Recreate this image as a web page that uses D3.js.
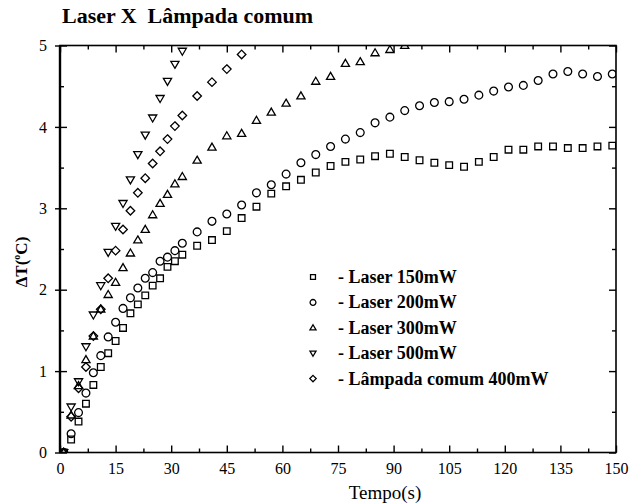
<!DOCTYPE html>
<html>
<head>
<meta charset="utf-8">
<script src="https://cdn.jsdelivr.net/npm/d3@7"></script>
<style>
  body { margin: 0; background: #fff; }
  svg { display: block; font-family: "Liberation Serif", "Times New Roman", serif; }
</style>
</head>
<body>
<div id="chart"></div>
<script>
// sample times (s) shared by every series; shorter series use the first n
const times = [1, 3, 5, 7, 9, 11, 13, 15, 17, 19, 21, 23, 25, 27, 29, 31, 33,
  37, 41, 45, 49, 53, 57, 61, 65, 69, 73, 77, 81, 85, 89, 93, 97, 101, 105, 109,
  113, 117, 121, 125, 129, 133, 137, 141, 145, 149];

const laser150 = [0, 0.16, 0.38, 0.60, 0.83, 1.05, 1.22, 1.37, 1.53, 1.71, 1.82, 1.93, 2.05, 2.14, 2.28, 2.35, 2.43,
  2.54, 2.61, 2.72, 2.88, 3.02, 3.18, 3.27, 3.35, 3.44, 3.52, 3.57, 3.60, 3.64, 3.67, 3.63, 3.59, 3.56, 3.53, 3.51,
  3.57, 3.63, 3.72, 3.72, 3.76, 3.76, 3.74, 3.74, 3.76, 3.77];
const laser200 = [0, 0.23, 0.49, 0.73, 0.98, 1.19, 1.42, 1.60, 1.77, 1.90, 2.02, 2.14, 2.21, 2.35, 2.40, 2.48, 2.57,
  2.71, 2.84, 2.93, 3.04, 3.19, 3.29, 3.42, 3.56, 3.66, 3.76, 3.85, 3.93, 4.05, 4.12, 4.20, 4.26, 4.30, 4.31, 4.34,
  4.39, 4.44, 4.49, 4.51, 4.57, 4.65, 4.68, 4.65, 4.62, 4.65];
const laser300 = [0, 0.46, 0.82, 1.14, 1.43, 1.76, 1.94, 2.09, 2.27, 2.45, 2.61, 2.74, 2.92, 3.06, 3.17, 3.30, 3.39,
  3.59, 3.75, 3.89, 3.92, 4.08, 4.18, 4.29, 4.38, 4.56, 4.62, 4.78, 4.80, 4.91, 4.95, 5.00];
const laser500 = [0, 0.56, 0.87, 1.30, 1.69, 2.05, 2.46, 2.78, 3.06, 3.35, 3.66, 3.90, 4.11, 4.35, 4.56, 4.77, 4.93];
const lampada400 = [0, 0.44, 0.79, 1.05, 1.43, 1.76, 2.14, 2.48, 2.74, 2.97, 3.19, 3.37, 3.55, 3.70, 3.85, 4.01, 4.14,
  4.38, 4.55, 4.71, 4.89];

const seriesNames = ["- Laser 150mW", "- Laser 200mW", "- Laser 300mW", "- Laser 500mW", "- Lâmpada comum 400mW"];
const seriesValues = [laser150, laser200, laser300, laser500, lampada400];
const seriesShapes = ["square", "circle", "up", "down", "diamond"];

const xMajor = [0, 15, 30, 45, 60, 75, 90, 105, 120, 135, 150];
const xMinor = [7.5, 22.5, 37.5, 52.5, 67.5, 82.5, 97.5, 112.5, 127.5, 142.5];
const yMajor = [0, 1, 2, 3, 4, 5];
const yMinor = [0.5, 1.5, 2.5, 3.5, 4.5];

const W = 632, H = 504;
const mLeft = 60, mRight = 616, mTop = 45.5, mBottom = 452.5;

const x = d3.scaleLinear().domain([0, 150]).range([mLeft, mRight]);
const y = d3.scaleLinear().domain([0, 5]).range([mBottom, mTop]);

const svg = d3.select("#chart").append("svg")
  .attr("width", W)
  .attr("height", H);

// marker path, s = half size
function shapePath(kind, s) {
  const p = d3.path();
  if (kind === "square") {
    p.rect(-s * 0.85, -s * 0.85, s * 1.7, s * 1.7);
  } else if (kind === "circle") {
    p.arc(0, 0, s, 0, 2 * Math.PI);
  } else if (kind === "up") {
    p.moveTo(0, -s * 1.05); p.lineTo(s * 1.05, s * 0.75); p.lineTo(-s * 1.05, s * 0.75); p.closePath();
  } else if (kind === "down") {
    p.moveTo(0, s * 1.05); p.lineTo(s * 1.05, -s * 0.75); p.lineTo(-s * 1.05, -s * 0.75); p.closePath();
  } else {
    p.moveTo(0, -s * 1.1); p.lineTo(s * 1.1, 0); p.lineTo(0, s * 1.1); p.lineTo(-s * 1.1, 0); p.closePath();
  }
  return p.toString();
}

svg.append("defs").append("clipPath").attr("id", "plot")
  .append("rect")
  .attr("x", mLeft).attr("y", mTop)
  .attr("width", mRight - mLeft).attr("height", mBottom - mTop);

// data markers
const pts = svg.append("g").attr("clip-path", "url(#plot)");
seriesValues.forEach((vals, i) => {
  pts.append("g").selectAll("path")
    .data(vals.map((v, j) => ({ t: times[j], v: v })))
    .enter().append("path")
    .attr("transform", d => `translate(${x(d.t)},${y(d.v)})`)
    .attr("d", shapePath(seriesShapes[i], 3.9))
    .attr("fill", "none")
    .attr("stroke", "#000")
    .attr("stroke-width", 1.3);
});

// axes
function styleAxis(g) {
  g.select(".domain").remove();
  g.selectAll("line").attr("stroke", "#000").attr("stroke-width", 1.4);
  g.selectAll("text").attr("fill", "#000").style("font-size", "16px").style("font-family", "Liberation Serif, serif");
}

svg.append("g").attr("transform", `translate(0,${mBottom})`)
  .call(d3.axisBottom(x).tickValues(xMajor).tickSize(-7).tickPadding(10).tickFormat(d3.format("d")))
  .call(styleAxis);
svg.append("g").attr("transform", `translate(0,${mBottom})`)
  .call(d3.axisBottom(x).tickValues(xMinor).tickSize(-4).tickFormat(""))
  .call(styleAxis);
svg.append("g").attr("transform", `translate(0,${mTop})`)
  .call(d3.axisTop(x).tickValues(xMajor).tickSize(-7).tickFormat(""))
  .call(styleAxis);
svg.append("g").attr("transform", `translate(0,${mTop})`)
  .call(d3.axisTop(x).tickValues(xMinor).tickSize(-4).tickFormat(""))
  .call(styleAxis);

svg.append("g").attr("transform", `translate(${mLeft},0)`)
  .call(d3.axisLeft(y).tickValues(yMajor).tickSize(5).tickPadding(8).tickFormat(d3.format("d")))
  .call(styleAxis);
svg.append("g").attr("transform", `translate(${mLeft},0)`)
  .call(d3.axisLeft(y).tickValues(yMajor).tickSize(-7).tickFormat(""))
  .call(styleAxis);
svg.append("g").attr("transform", `translate(${mLeft},0)`)
  .call(d3.axisLeft(y).tickValues(yMinor).tickSize(-4).tickFormat(""))
  .call(styleAxis);
svg.append("g").attr("transform", `translate(${mRight},0)`)
  .call(d3.axisRight(y).tickValues(yMajor).tickSize(-7).tickFormat(""))
  .call(styleAxis);
svg.append("g").attr("transform", `translate(${mRight},0)`)
  .call(d3.axisRight(y).tickValues(yMinor).tickSize(-4).tickFormat(""))
  .call(styleAxis);

// frame
svg.append("rect")
  .attr("x", mLeft).attr("y", mTop)
  .attr("width", mRight - mLeft).attr("height", mBottom - mTop)
  .attr("fill", "none").attr("stroke", "#000").attr("stroke-width", 1.6);
svg.append("line")
  .attr("x1", mLeft).attr("x2", mLeft).attr("y1", mTop).attr("y2", mBottom)
  .attr("stroke", "#000").attr("stroke-width", 2.4);

// title and axis labels
svg.append("text")
  .attr("x", 62).attr("y", 23)
  .attr("font-weight", "bold").attr("font-size", 20)
  .attr("textLength", 251).attr("lengthAdjust", "spacingAndGlyphs")
  .style("white-space", "pre")
  .text("Laser X  Lâmpada comum");

svg.append("text")
  .attr("x", 385).attr("y", 499)
  .attr("text-anchor", "middle").attr("font-size", 19)
  .text("Tempo(s)");

const yl = svg.append("text")
  .attr("transform", "translate(27,262) rotate(-90)")
  .attr("text-anchor", "middle").attr("font-weight", "bold").attr("font-size", 17);
yl.append("tspan").text("ΔT(");
yl.append("tspan").attr("font-size", 10).attr("dy", -7).text("o");
yl.append("tspan").attr("dy", 7).text("C)");

// legend
const legend = svg.append("g");
seriesNames.forEach((name, i) => {
  const ly = 277 + i * 25.4;
  legend.append("path")
    .attr("transform", `translate(313,${ly})`)
    .attr("d", shapePath(seriesShapes[i], 2.9))
    .attr("fill", "none").attr("stroke", "#000").attr("stroke-width", 1.3);
  legend.append("text")
    .attr("x", 338).attr("y", ly + 6)
    .attr("font-weight", "bold").attr("font-size", 18)
    .text(name);
});
</script>
</body>
</html>
